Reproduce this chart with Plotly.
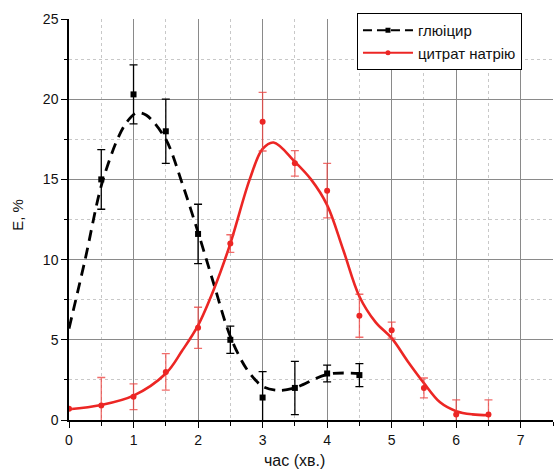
import plotly.graph_objects as go

# Measured points (time, min) with standard deviations
t_gly = [0.5, 1.0, 1.5, 2.0, 2.5, 3.0, 3.5, 4.0, 4.5]
e_gly = [15.0, 20.3, 18.0, 11.6, 5.0, 1.4, 2.0, 2.9, 2.8]
sd_gly = [1.86, 1.84, 2.0, 1.85, 0.85, 1.62, 1.66, 0.52, 0.72]

t_cit = [0.0, 0.5, 1.0, 1.5, 2.0, 2.5, 3.0, 3.5, 4.0, 4.5, 5.0, 5.5, 6.0, 6.5]
e_cit = [0.7, 0.9, 1.45, 3.0, 5.75, 11.0, 18.6, 16.0, 14.3, 6.5, 5.6, 2.0, 0.35, 0.35]
sd_cit = [0.0, 1.75, 0.8, 1.14, 1.28, 0.55, 1.83, 0.8, 1.7, 1.34, 0.5, 0.62, 0.9, 0.9]

# Smoothed trend curves (knots of the fitted curves)
fit_gly_t = [0.0, 0.25, 0.5, 0.75, 0.9, 1.05, 1.2, 1.5, 1.75, 2.0, 2.25, 2.5, 2.75, 3.0, 3.25, 3.5, 4.0, 4.5]
fit_gly_e = [5.7, 10.0, 14.6, 17.5, 18.6, 19.15, 19.0, 17.5, 14.8, 11.7, 8.4, 5.2, 3.2, 2.1, 1.85, 2.0, 2.85, 2.9]

fit_cit_t = [0.0, 0.5, 1.0, 1.5, 1.75, 2.0, 2.25, 2.5, 2.8, 3.0, 3.17, 3.5, 3.75, 4.0, 4.25, 4.5,
             4.75, 5.0, 5.25, 5.5, 5.75, 6.0, 6.25, 6.5]
fit_cit_e = [0.67, 0.94, 1.52, 2.9, 4.3, 5.9, 8.2, 11.0, 15.0, 16.9, 17.3, 16.1, 15.0, 13.4, 10.6, 7.7,
             6.1, 5.1, 3.65, 2.3, 1.1, 0.55, 0.35, 0.3]

labels = ["глюіцир", "цитрат натрію"]

BLACK = "#000000"
RED = "rgb(236,38,36)"
RED_ERR = "rgba(236,60,58,0.75)"
FONT = "Liberation Sans, Arial, sans-serif"

fig = go.Figure()

# Glucitrate: dashed trend curve + points with error bars
fig.add_trace(go.Scatter(
    x=fit_gly_t, y=fit_gly_e, mode="lines", showlegend=False,
    line=dict(color=BLACK, width=2.8, dash="11px,7px", shape="spline", smoothing=0.9),
    hoverinfo="skip"))
fig.add_trace(go.Scatter(
    x=t_gly, y=e_gly, mode="markers", showlegend=False,
    marker=dict(symbol="square", size=6, color=BLACK),
    error_y=dict(type="data", array=sd_gly, color=BLACK, thickness=1.3, width=4)))

# Sodium citrate: solid trend curve + points with error bars
fig.add_trace(go.Scatter(
    x=fit_cit_t, y=fit_cit_e, mode="lines", showlegend=False,
    line=dict(color=RED, width=2.6, shape="spline", smoothing=1.0),
    hoverinfo="skip"))
fig.add_trace(go.Scatter(
    x=t_cit, y=e_cit, mode="markers", showlegend=False,
    marker=dict(symbol="circle", size=6, color=RED),
    error_y=dict(type="data", array=sd_cit, color=RED_ERR, thickness=1.3, width=4)))

# Legend entries combining line style and marker
fig.add_trace(go.Scatter(
    x=[None], y=[None], mode="lines+markers", name=labels[0],
    line=dict(color=BLACK, width=2.2, dash="9px,5px"),
    marker=dict(symbol="square", size=5, color=BLACK)))
fig.add_trace(go.Scatter(
    x=[None], y=[None], mode="lines+markers", name=labels[1],
    line=dict(color=RED, width=2.2),
    marker=dict(symbol="circle", size=5, color=RED)))

axis_common = dict(
    showline=True, linecolor=BLACK, linewidth=1.5,
    ticks="outside", ticklen=6, tickwidth=1.3, tickcolor=BLACK,
    showgrid=True, gridcolor="#8a8a8a", gridwidth=1,
    zeroline=False,
    tickfont=dict(family=FONT, size=14, color="#111111"),
)

fig.update_xaxes(
    range=[0, 7.5], dtick=1, tick0=0, tickvals=[0, 1, 2, 3, 4, 5, 6, 7],
    minor=dict(dtick=0.5, tick0=0, showgrid=True, gridcolor="#c8c8c8", griddash="dot",
               gridwidth=1, ticks="outside", ticklen=4, tickcolor=BLACK),
    **axis_common)
fig.update_yaxes(
    range=[0, 25], dtick=5, tick0=0,
    minor=dict(dtick=2.5, tick0=0, showgrid=True, gridcolor="#c8c8c8", griddash="dot",
               gridwidth=1, ticks="outside", ticklen=3, tickcolor=BLACK),
    **axis_common)

fig.add_annotation(
    text="час (хв.)", x=3.5, xref="x", y=-0.102, yref="paper",
    xanchor="center", yanchor="middle", showarrow=False,
    font=dict(family=FONT, size=16, color="#111111"))
fig.add_annotation(
    text="E, %", x=-0.105, xref="paper", y=12.8, yref="y",
    xanchor="center", yanchor="middle", textangle=-90, showarrow=False,
    font=dict(family=FONT, size=15, color="#111111"))

fig.update_layout(
    width=554, height=470,
    margin=dict(l=69, r=1, t=19, b=50),
    paper_bgcolor="white", plot_bgcolor="white",
    showlegend=True,
    legend=dict(
        x=0.595, y=1.015, xanchor="left", yanchor="top",
        bgcolor="white", bordercolor=BLACK, borderwidth=1,
        font=dict(family=FONT, size=15, color="#111111"),
        tracegroupgap=0, itemwidth=50,
    ),
)

fig.write_html("out.html")
